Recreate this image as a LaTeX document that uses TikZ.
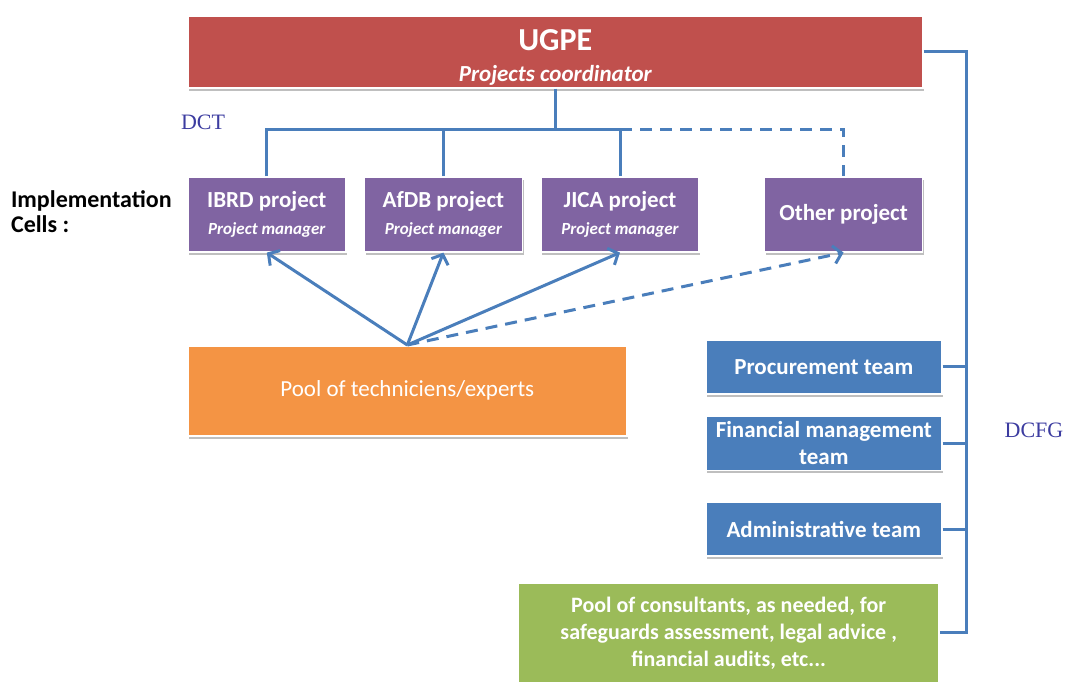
\documentclass[tikz,border=0pt]{standalone}
\usepackage{fontspec}
\setmainfont{Carlito}
\newfontfamily\tagfont{Liberation Serif}
\usetikzlibrary{arrows.meta,positioning,shadows}
\definecolor{ugpered}{RGB}{192,80,77}
\definecolor{cellpurple}{RGB}{128,100,162}
\definecolor{teamblue}{RGB}{74,126,187}
\definecolor{poolorange}{RGB}{244,148,68}
\definecolor{consultgreen}{RGB}{155,187,89}
\definecolor{linkblue}{RGB}{74,126,187}
\definecolor{tagblue}{RGB}{60,60,160}

\begin{document}
\begin{tikzpicture}[
    x=0.5pt, y=-0.5pt,
    font=\bfseries\fontsize{11.5}{13.5}\selectfont,
    box/.style={
        rectangle,
        draw=white,
        line width=0.8pt,
        text=white,
        align=center,
        inner sep=2pt,
        drop shadow={shadow xshift=0.6pt, shadow yshift=-1.4pt, opacity=0.25, fill=black}
    },
    cell/.style={box, fill=cellpurple, minimum width=79pt, minimum height=37.5pt},
    team/.style={box, fill=teamblue, minimum width=118pt, minimum height=27pt},
    link/.style={draw=linkblue, line width=1.5pt},
    arrow/.style={link, -{Straight Barb[length=4pt, width=9pt]}},
    dashedlink/.style={link, dash pattern=on 6pt off 4pt},
    tag/.style={font=\tagfont\fontsize{11}{13}\selectfont, text=tagblue}
]
\useasboundingbox (0,0) rectangle (1066,682);

% Coordinator
\node[box, fill=ugpered, minimum width=367.5pt, minimum height=36pt, inner ysep=0pt, anchor=north west] (ugpe) at (187,15)
    {\rule{0pt}{16pt}{\fontsize{16}{18}\selectfont UGPE}\\[2pt]
     {\fontsize{11.5}{13}\selectfont\itshape Projects coordinator}};

% Implementation cells
\node[cell, anchor=north west] (ibrd) at (187,176)
    {IBRD project\\{\fontsize{8.5}{10}\selectfont\itshape Project manager}};
\node[cell, right=8.5pt of ibrd] (afdb)
    {AfDB project\\{\fontsize{8.5}{10}\selectfont\itshape Project manager}};
\node[cell, right=8.5pt of afdb] (jica)
    {JICA project\\{\fontsize{8.5}{10}\selectfont\itshape Project manager}};
\node[cell, right=32pt of jica] (other) {Other project};

\node[align=left, anchor=north west, font=\bfseries\fontsize{12}{12.5}\selectfont] (cells) at (4,184)
    {Implementation\\Cells :};

% Technical pool
\node[box, fill=poolorange, font=\fontsize{11.5}{13}\selectfont, minimum width=219.5pt, minimum height=45pt,
    anchor=north west] (pool) at (187,345) {Pool of techniciens/experts};

% Support teams
\node[team, anchor=north west] (procure) at (705,339) {Procurement team};
\node[team, below=10.5pt of procure] (finance) {Financial management\\team};
\node[team, below=15pt of finance] (admin) {Administrative team};

\node[box, fill=consultgreen, font=\bfseries\fontsize{11}{13.5}\selectfont, minimum width=210.5pt, minimum height=50pt,
    anchor=north east] (consult) at (940,582)
    {Pool of consultants, as needed, for\\safeguards assessment, legal advice ,\\financial audits, etc...};

% Department labels
\node[tag] (dct) at (203,122) {DCT};
\node[tag] (dcfg) at (1034,430) {DCFG};

% Technical tree
\coordinate (bus) at (ugpe.south |- 0,129);
\coordinate (rail) at (966,50);
\draw[link] (ugpe.south) -- (bus);
\draw[link] (ibrd.north) |- (jica.north |- bus) -- (jica.north);
\draw[link] (afdb.north) -- (afdb.north |- bus);
\draw[dashedlink] (jica.north |- bus) -| (other.north);

% Experts assigned to projects
\foreach \proj in {ibrd,afdb,jica}
    \draw[arrow] (pool.north) -- (\proj.south);
\draw[arrow, dashedlink] (pool.north) -- (other.south);

% Financial and administrative rail
\draw[link] (ugpe.east) -- (rail |- ugpe.east) -- (rail |- consult.east) -- (consult.east);
\foreach \team in {procure,finance,admin}
    \draw[link] (\team.east) -- (rail |- \team.east);

\end{tikzpicture}
\end{document}
